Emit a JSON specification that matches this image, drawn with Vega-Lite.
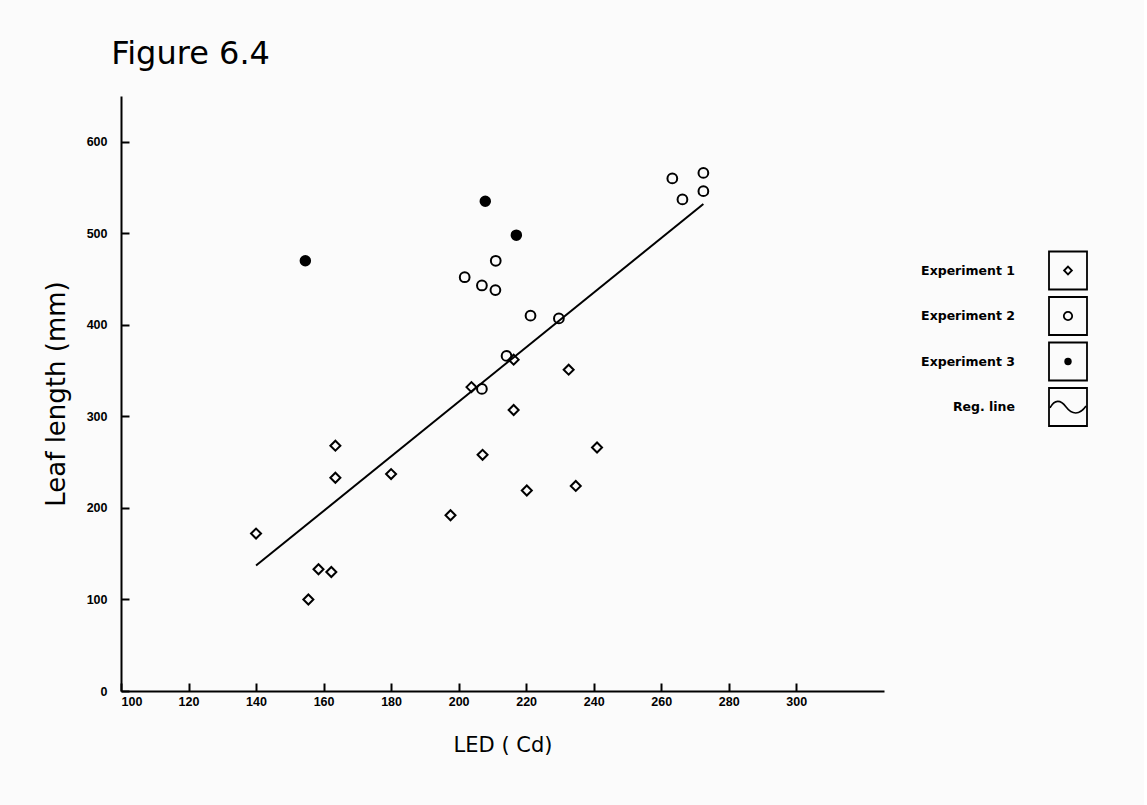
{
  "$schema": "https://vega.github.io/schema/vega-lite/v6.json",
  "background": "#fbfbfb",
  "padding": {"left": 43, "top": 38, "right": 50, "bottom": 60},
  "title": {"text": "Figure 6.4", "anchor": "start", "fontSize": 32, "font": "DejaVu Sans", "fontWeight": "normal", "color": "black", "offset": 25, "dx": 68},
  "datasets": {
    "points": [
      {"led": 140, "len": 172, "series": "Experiment 1"},
      {"led": 155.5, "len": 100, "series": "Experiment 1"},
      {"led": 158.5, "len": 133, "series": "Experiment 1"},
      {"led": 162.3, "len": 130, "series": "Experiment 1"},
      {"led": 163.5, "len": 268, "series": "Experiment 1"},
      {"led": 163.5, "len": 233, "series": "Experiment 1"},
      {"led": 180, "len": 237, "series": "Experiment 1"},
      {"led": 197.6, "len": 192, "series": "Experiment 1"},
      {"led": 203.8, "len": 332, "series": "Experiment 1"},
      {"led": 207.1, "len": 258, "series": "Experiment 1"},
      {"led": 216.3, "len": 307, "series": "Experiment 1"},
      {"led": 216.3, "len": 362, "series": "Experiment 1"},
      {"led": 220.2, "len": 219, "series": "Experiment 1"},
      {"led": 232.6, "len": 351, "series": "Experiment 1"},
      {"led": 234.7, "len": 224, "series": "Experiment 1"},
      {"led": 241, "len": 266, "series": "Experiment 1"},
      {"led": 201.8, "len": 452, "series": "Experiment 2"},
      {"led": 206.9, "len": 443, "series": "Experiment 2"},
      {"led": 210.9, "len": 438, "series": "Experiment 2"},
      {"led": 211, "len": 470, "series": "Experiment 2"},
      {"led": 221.3, "len": 410, "series": "Experiment 2"},
      {"led": 229.7, "len": 407, "series": "Experiment 2"},
      {"led": 214.2, "len": 366, "series": "Experiment 2"},
      {"led": 206.9, "len": 330, "series": "Experiment 2"},
      {"led": 263.3, "len": 560, "series": "Experiment 2"},
      {"led": 266.3, "len": 537, "series": "Experiment 2"},
      {"led": 272.5, "len": 566, "series": "Experiment 2"},
      {"led": 272.5, "len": 546, "series": "Experiment 2"},
      {"led": 207.9, "len": 535, "series": "Experiment 3"},
      {"led": 217.1, "len": 498, "series": "Experiment 3"},
      {"led": 154.6, "len": 470, "series": "Experiment 3"}
    ],
    "regline": [
      {"led": 140, "len": 137},
      {"led": 272.5, "len": 532}
    ],
    "legend": [
      {"series": "Experiment 1"},
      {"series": "Experiment 2"},
      {"series": "Experiment 3"},
      {"series": "Reg. line"}
    ]
  },
  "config": {
    "view": {"stroke": null},
    "concat": {"spacing": 10},
    "axis": {
      "domainColor": "black",
      "domainWidth": 2,
      "tickColor": "black",
      "tickWidth": 2,
      "grid": false,
      "labelColor": "black",
      "labelFont": "Liberation Sans",
      "labelFontWeight": "bold",
      "labelFontSize": 12.5,
      "titleColor": "black",
      "titleFont": "DejaVu Sans",
      "titleFontWeight": "normal"
    }
  },
  "hconcat": [
    {
      "width": 763,
      "height": 595,
      "layer": [
        {
          "data": {"name": "regline"},
          "mark": {"type": "line", "color": "black", "strokeWidth": 2},
          "encoding": {
            "x": {"field": "led", "type": "quantitative"},
            "y": {"field": "len", "type": "quantitative"}
          }
        },
        {
          "data": {"name": "points"},
          "mark": {"type": "point", "stroke": "black", "strokeWidth": 2, "opacity": 1},
          "encoding": {
            "x": {
              "field": "led", "type": "quantitative",
              "scale": {"domain": [100, 326], "nice": false, "zero": false},
              "axis": {"values": [100, 120, 140, 160, 180, 200, 220, 240, 260, 280, 300], "tickSize": -8, "labelPadding": 12, "title": "LED ( Cd)", "titleFontSize": 21, "titlePadding": 27}
            },
            "y": {
              "field": "len", "type": "quantitative",
              "scale": {"domain": [0, 650], "nice": false},
              "axis": {"values": [0, 100, 200, 300, 400, 500, 600], "tickSize": -8, "labelPadding": 22, "title": "Leaf length (mm)", "titleFontSize": 26, "titlePadding": 17}
            },
            "shape": {
              "field": "series", "type": "nominal",
              "scale": {"domain": ["Experiment 1", "Experiment 2", "Experiment 3"], "range": ["diamond", "circle", "circle"]},
              "legend": null
            },
            "fill": {
              "field": "series", "type": "nominal",
              "scale": {"domain": ["Experiment 1", "Experiment 2", "Experiment 3"], "range": ["transparent", "transparent", "black"]},
              "legend": null
            },
            "size": {
              "field": "series", "type": "nominal",
              "scale": {"domain": ["Experiment 1", "Experiment 2", "Experiment 3"], "range": [100, 90, 60]},
              "legend": null
            }
          }
        }
      ]
    },
    {
      "width": 200,
      "height": 595,
      "data": {"name": "legend"},
      "encoding": {
        "y": {
          "field": "series", "type": "nominal",
          "scale": {"domain": ["Experiment 1", "Experiment 2", "Experiment 3", "Reg. line"], "range": [174.5, 311], "padding": 0},
          "axis": null
        },
        "x": {"datum": "symbol", "type": "nominal", "scale": {"domain": ["label", "symbol"], "range": [121, 174], "padding": 0}, "axis": null}
      },
      "layer": [
        {
          "mark": {"type": "point", "shape": "square", "size": 1444, "filled": false, "stroke": "black", "strokeWidth": 1.8, "opacity": 1}
        },
        {
          "transform": [{"filter": "datum.series === 'Experiment 1'"}],
          "mark": {"type": "point", "shape": "diamond", "size": 60, "filled": false, "stroke": "black", "strokeWidth": 1.8, "opacity": 1}
        },
        {
          "transform": [{"filter": "datum.series === 'Experiment 2'"}],
          "mark": {"type": "point", "shape": "circle", "size": 70, "filled": false, "stroke": "black", "strokeWidth": 1.8, "opacity": 1}
        },
        {
          "transform": [{"filter": "datum.series === 'Experiment 3'"}],
          "mark": {"type": "point", "shape": "circle", "size": 55, "filled": true, "color": "black", "opacity": 1}
        },
        {
          "transform": [{"filter": "datum.series === 'Reg. line'"}],
          "mark": {"type": "point", "shape": "M-0.95,0.05 C-0.7,-0.4 -0.4,-0.4 -0.1,0 C0.2,0.4 0.6,0.45 0.95,-0.05", "size": 1444, "filled": false, "stroke": "black", "strokeWidth": 1.6, "opacity": 1}
        },
        {
          "mark": {"type": "text", "align": "right", "baseline": "middle", "font": "DejaVu Sans", "fontWeight": "bold", "fontSize": 12.5, "color": "black"},
          "encoding": {
            "x": {"datum": "label", "type": "nominal", "scale": {"domain": ["label", "symbol"], "range": [121, 174], "padding": 0}, "axis": null},
            "text": {"field": "series"}
          }
        }
      ]
    }
  ]
}
